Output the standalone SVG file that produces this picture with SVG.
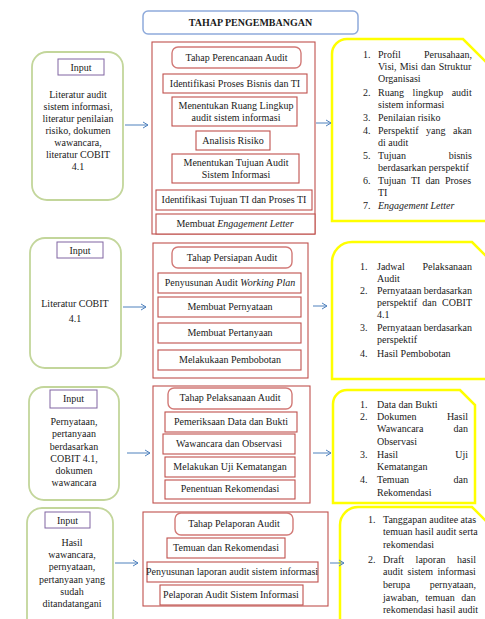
<svg xmlns="http://www.w3.org/2000/svg" width="485" height="619" viewBox="0 0 485 619">
<defs>
<marker id="arr" markerUnits="userSpaceOnUse" markerWidth="8" markerHeight="8" refX="6" refY="4" orient="auto">
<path d="M1,1 L6,4 L1,7" fill="none" stroke="#4f81bd" stroke-width="1"/>
</marker>
</defs>
<style>
text{font-family:"Liberation Serif","Times New Roman",serif;font-size:10px;fill:#1a1a1a}
.c{text-anchor:middle}
.e{text-anchor:end}
.it{font-style:italic}
.title{fill:#fff;stroke:#8eaadb;stroke-width:1.5}
.inp{fill:#fff;stroke:#c3d69b;stroke-width:1.8}
.lab{fill:#fff;stroke:#8064a2;stroke-width:1}
.outer{fill:#fff;stroke:#c0504d;stroke-width:1.1}
.step{fill:#fff;stroke:#c0504d;stroke-width:1.1}
.head{fill:#fff;stroke:#d27a77;stroke-width:1.4}
.out{fill:#fff;stroke:#ffff00;stroke-width:2.5}
.con line{stroke:#4f81bd;stroke-width:1;marker-end:url(#arr)}
</style>
<rect width="485" height="619" fill="#fff"/>

<g id="title">
<rect class="title" x="143" y="11" width="215" height="23" rx="5"/>
<text class="c" x="250.5" y="26" font-weight="bold">TAHAP PENGEMBANGAN</text>
</g>

<!-- Row 1 -->
<g id="input1">
<rect class="inp" x="32" y="52" width="91" height="148" rx="15"/>
<rect class="lab" x="58" y="59" width="46" height="16"/>
<text class="c" x="81" y="71">Input</text>
<text class="c" x="78" y="98">Literatur audit</text>
<text class="c" x="78" y="110">sistem informasi,</text>
<text class="c" x="78" y="122">literatur penilaian</text>
<text class="c" x="78" y="134">risiko, dokumen</text>
<text class="c" x="78" y="146">wawancara,</text>
<text class="c" x="78" y="158">literatur COBIT</text>
<text class="c" x="78" y="170">4.1</text>
</g>
<g id="perencanaan">
<rect class="outer" x="152" y="42" width="163" height="192"/>
<rect class="head" x="172" y="47" width="129" height="21" rx="6"/>
<text class="c" x="236.5" y="61">Tahap Perencanaan Audit</text>
<rect class="step" x="163" y="74" width="144" height="19"/>
<text class="c" x="235" y="87">Identifikasi Proses Bisnis dan TI</text>
<rect class="step" x="172" y="97" width="125" height="29"/>
<text class="c" x="236" y="109">Menentukan Ruang Lingkup</text>
<text class="c" x="236" y="121">audit sistem informasi</text>
<rect class="step" x="196" y="131" width="74" height="19"/>
<text class="c" x="233" y="144">Analisis Risiko</text>
<rect class="step" x="172" y="154" width="127" height="29"/>
<text class="c" x="236" y="166">Menentukan Tujuan Audit</text>
<text class="c" x="236" y="178">Sistem Informasi</text>
<rect class="step" x="156" y="190" width="156" height="20"/>
<text class="c" x="234" y="203">Identifikasi Tujuan TI dan Proses TI</text>
<rect class="step" x="156" y="214" width="159" height="20"/>
<text class="c" x="235" y="227">Membuat <tspan class="it">Engagement Letter</tspan></text>
</g>
<g id="output1">
<path class="out" d="M332,221 L332,54 A15,15 0 0 1 347,39 L463,39 L492,68 L492,221 Z"/>
<text x="363" y="58">1.</text>
<text x="378" y="58">Profil</text><text class="e" x="472" y="58">Perusahaan,</text>
<text x="378" y="70" word-spacing="0.6">Visi, Misi dan Struktur</text>
<text x="378" y="82">Organisasi</text>
<text x="363" y="96">2.</text>
<text x="378" y="96" word-spacing="6">Ruang lingkup audit</text>
<text x="378" y="108">sistem informasi</text>
<text x="363" y="121">3.</text>
<text x="378" y="121">Penilaian risiko</text>
<text x="363" y="134">4.</text>
<text x="378" y="134" word-spacing="5">Perspektif yang akan</text>
<text x="378" y="146">di audit</text>
<text x="363" y="159">5.</text>
<text x="378" y="159">Tujuan</text><text class="e" x="472" y="159">bisnis</text>
<text x="378" y="171">berdasarkan perspektif</text>
<text x="363" y="184">6.</text>
<text x="378" y="184" word-spacing="2.6">Tujuan TI dan Proses</text>
<text x="378" y="196">TI</text>
<text x="363" y="209">7.</text>
<text class="it" x="378" y="209">Engagement Letter</text>
</g>

<!-- Row 2 -->
<g id="input2">
<rect class="inp" x="30" y="238" width="91" height="130" rx="15"/>
<rect class="lab" x="57" y="242" width="46" height="16"/>
<text class="c" x="80" y="254">Input</text>
<text class="c" x="75" y="307">Literatur COBIT</text>
<text class="c" x="75" y="322">4.1</text>
</g>
<g id="persiapan">
<rect class="outer" x="153" y="243" width="155" height="135"/>
<rect class="head" x="172" y="247" width="120" height="21" rx="6"/>
<text class="c" x="232" y="261">Tahap Persiapan Audit</text>
<rect class="step" x="158" y="273" width="143" height="20"/>
<text class="c" x="230" y="286">Penyusunan Audit <tspan class="it">Working Plan</tspan></text>
<rect class="step" x="158" y="297" width="143" height="20"/>
<text class="c" x="230" y="310">Membuat Pernyataan</text>
<rect class="step" x="158" y="323" width="143" height="20"/>
<text class="c" x="230" y="336">Membuat Pertanyaan</text>
<rect class="step" x="158" y="350" width="143" height="20"/>
<text class="c" x="230" y="363">Melakukaan Pembobotan</text>
</g>
<g id="output2">
<path class="out" d="M332,379 L332,262 A20,20 0 0 1 352,242 L472,242 L492,262 L492,379 Z"/>
<text x="360" y="270">1.</text>
<text x="377" y="270">Jadwal</text><text class="e" x="472" y="270">Pelaksanaan</text>
<text x="377" y="282">Audit</text>
<text x="360" y="294">2.</text>
<text x="377" y="294">Pernyataan</text><text class="e" x="472" y="294">berdasarkan</text>
<text x="377" y="306" word-spacing="2.8">perspektif dan COBIT</text>
<text x="377" y="318">4.1</text>
<text x="360" y="331">3.</text>
<text x="377" y="331">Pernyataan</text><text class="e" x="472" y="331">berdasarkan</text>
<text x="377" y="343">perspektif</text>
<text x="360" y="357">4.</text>
<text x="377" y="357">Hasil Pembobotan</text>
</g>

<!-- Row 3 -->
<g id="input3">
<rect class="inp" x="29" y="387" width="90" height="113" rx="15"/>
<rect class="lab" x="50" y="390" width="47" height="18"/>
<text class="c" x="73.5" y="402">Input</text>
<text class="c" x="74" y="425">Pernyataan,</text>
<text class="c" x="74" y="437">pertanyaan</text>
<text class="c" x="74" y="450">berdasarkan</text>
<text class="c" x="74" y="462">COBIT 4.1,</text>
<text class="c" x="74" y="474">dokumen</text>
<text class="c" x="74" y="486">wawancara</text>
</g>
<g id="pelaksanaan">
<rect class="outer" x="153" y="386" width="157" height="117"/>
<rect class="head" x="168" y="388" width="124" height="21" rx="6"/>
<text class="c" x="230" y="401">Tahap Pelaksanaan Audit</text>
<rect class="step" x="165" y="412" width="132" height="20"/>
<text class="c" x="231" y="425">Pemeriksaan Data dan Bukti</text>
<rect class="step" x="163" y="434" width="132" height="20"/>
<text class="c" x="229" y="447">Wawancara dan Observasi</text>
<rect class="step" x="165" y="457" width="130" height="20"/>
<text class="c" x="230" y="470">Melakukan Uji Kematangan</text>
<rect class="step" x="165" y="480" width="130" height="19"/>
<text class="c" x="230" y="492">Penentuan Rekomendasi</text>
</g>
<g id="output3">
<path class="out" d="M333,503 L333,404 A14,14 0 0 1 347,390 L460,390 L475,405 L475,503 Z"/>
<text x="360" y="408">1.</text>
<text x="377" y="408">Data dan Bukti</text>
<text x="360" y="420">2.</text>
<text x="377" y="420">Dokumen</text><text class="e" x="468" y="420">Hasil</text>
<text x="377" y="432">Wawancara</text><text class="e" x="468" y="432">dan</text>
<text x="377" y="445">Observasi</text>
<text x="360" y="458">3.</text>
<text x="377" y="458">Hasil</text><text class="e" x="468" y="458">Uji</text>
<text x="377" y="470">Kematangan</text>
<text x="360" y="483">4.</text>
<text x="377" y="483">Temuan</text><text class="e" x="468" y="483">dan</text>
<text x="377" y="496">Rekomendasi</text>
</g>

<!-- Row 4 -->
<g id="input4">
<rect class="inp" x="27" y="508" width="86" height="130" rx="15"/>
<rect class="lab" x="45" y="512" width="45" height="16"/>
<text class="c" x="67.5" y="524">Input</text>
<text class="c" x="72" y="546">Hasil</text>
<text class="c" x="72" y="558">wawancara,</text>
<text class="c" x="72" y="570">pernyataan,</text>
<text class="c" x="72" y="583">pertanyaan yang</text>
<text class="c" x="72" y="595">sudah</text>
<text class="c" x="72" y="607">ditandatangani</text>
</g>
<g id="pelaporan">
<rect class="outer" x="143" y="512" width="185" height="94"/>
<rect class="head" x="175" y="513" width="118" height="22" rx="6"/>
<text class="c" x="234" y="527">Tahap Pelaporan Audit</text>
<rect class="step" x="167" y="538" width="118" height="20"/>
<text class="c" x="226" y="551">Temuan dan Rekomendasi</text>
<rect class="step" x="147" y="562" width="171" height="20"/>
<text class="c" x="232" y="575">Penyusunan laporan audit sistem informasi</text>
<rect class="step" x="160" y="585" width="143" height="20"/>
<text class="c" x="231" y="598">Pelaporan Audit Sistem Informasi</text>
</g>
<g id="output4">
<path class="out" d="M340,630 L340,525 A18,18 0 0 1 358,507 L472,507 L490,525 L490,630 Z"/>
<text x="368" y="523">1.</text>
<text x="383" y="523">Tanggapan auditee atas</text>
<text x="383" y="535">temuan hasil audit serta</text>
<text x="383" y="548">rekomendasi</text>
<text x="368" y="563">2.</text>
<text x="383" y="563" word-spacing="9">Draft laporan hasil</text>
<text x="383" y="575" word-spacing="2">audit sistem informasi</text>
<text x="383" y="588">berupa</text><text class="e" x="476" y="588">pernyataan,</text>
<text x="383" y="601" word-spacing="4">jawaban, temuan dan</text>
<text x="383" y="613">rekomendasi hasil audit</text>
</g>

<g id="connectors" class="con">
<line x1="125" y1="125" x2="148" y2="125"/>
<line x1="316" y1="123" x2="331" y2="123"/>
<line x1="123" y1="307" x2="146" y2="307"/>
<line x1="313" y1="306" x2="327" y2="306"/>
<line x1="127" y1="453" x2="150" y2="453"/>
<line x1="313" y1="453" x2="331" y2="453"/>
<line x1="115" y1="563" x2="138" y2="563"/>
<line x1="330" y1="563" x2="344" y2="563"/>
</g>
</svg>
